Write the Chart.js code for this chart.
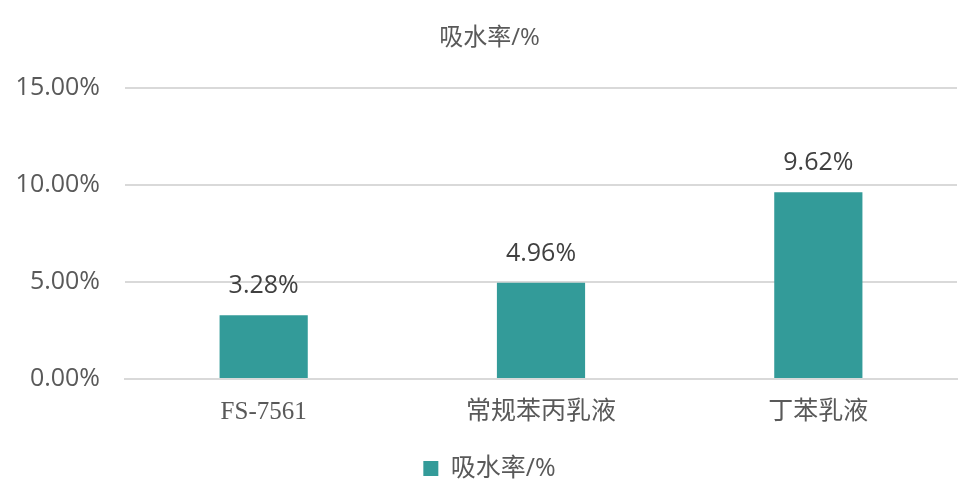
<!DOCTYPE html>
<html>
<head>
<meta charset="utf-8">
<script src="https://cdn.jsdelivr.net/npm/chart.js@4"></script>
<style>
  html, body { margin: 0; padding: 0; background: #fff; }
  #wrap { width: 979px; height: 501px; }
</style>
</head>
<body>
<div id="wrap"><canvas id="c" width="979" height="501"></canvas></div>
<script>
const categories = ["FS-7561", "常规苯丙乳液", "丁苯乳液"];
const waterAbsorption = [3.28, 4.96, 9.62];
const seriesName = "吸水率/%";
const yTicks = [0, 5, 10, 15];

const FONT = "'Open Sans', 'Noto Sans CJK SC', sans-serif";

// draws the value over each bar
const barLabels = {
  id: "barLabels",
  afterDatasetsDraw(chart) {
    const ctx = chart.ctx;
    const meta = chart.getDatasetMeta(0);
    ctx.save();
    ctx.font = "25px " + FONT;
    ctx.fillStyle = "#404040";
    ctx.textAlign = "center";
    ctx.textBaseline = "middle";
    meta.data.forEach((bar, i) => {
      ctx.fillText(waterAbsorption[i].toFixed(2) + "%", bar.x, bar.y - 29);
    });
    ctx.restore();
  }
};

new Chart(document.getElementById("c"), {
  type: "bar",
  data: {
    labels: categories,
    datasets: [{
      label: seriesName,
      data: waterAbsorption,
      backgroundColor: "#339B99",
      categoryPercentage: 1,
      barPercentage: 0.318
    }]
  },
  options: {
    responsive: false,
    animation: false,
    layout: { padding: { left: 0, right: 0, top: 10, bottom: 10 } },
    plugins: {
      title: {
        display: true,
        text: seriesName,
        color: "#595959",
        font: { family: FONT, size: 24, weight: "normal" },
        padding: { top: 14, bottom: 35 }
      },
      legend: {
        position: "bottom",
        labels: {
          color: "#595959",
          font: { family: FONT, size: 25 },
          boxWidth: 15,
          boxHeight: 15,
          padding: 19
        }
      },
      tooltip: { enabled: false }
    },
    scales: {
      x: {
        grid: { display: false },
        border: { color: "#d9d9d9", width: 2 },
        ticks: {
          color: "#595959",
          padding: 10,
          font: (ctx) => ({
            family: ctx.index === 0 ? "'Liberation Serif', serif" : FONT,
            size: 25
          })
        }
      },
      y: {
        min: 0,
        max: 15,
        afterFit: (axis) => { axis.width = 125; },
        afterBuildTicks: (axis) => { axis.ticks = yTicks.map(v => ({ value: v })); },
        grid: { color: "#d9d9d9", lineWidth: 2, drawTicks: false },
        border: { display: false },
        ticks: {
          color: "#595959",
          padding: 25,
          font: { family: FONT, size: 25 },
          callback: (v) => v.toFixed(2) + "%"
        }
      },
      // empty right-hand gutter so the plot ends where the original does
      yRight: {
        position: "right",
        min: 0,
        max: 15,
        afterFit: (axis) => { axis.width = 22; },
        grid: { display: false },
        border: { display: false },
        ticks: { display: false }
      }
    }
  },
  plugins: [barLabels]
});
</script>
</body>
</html>
